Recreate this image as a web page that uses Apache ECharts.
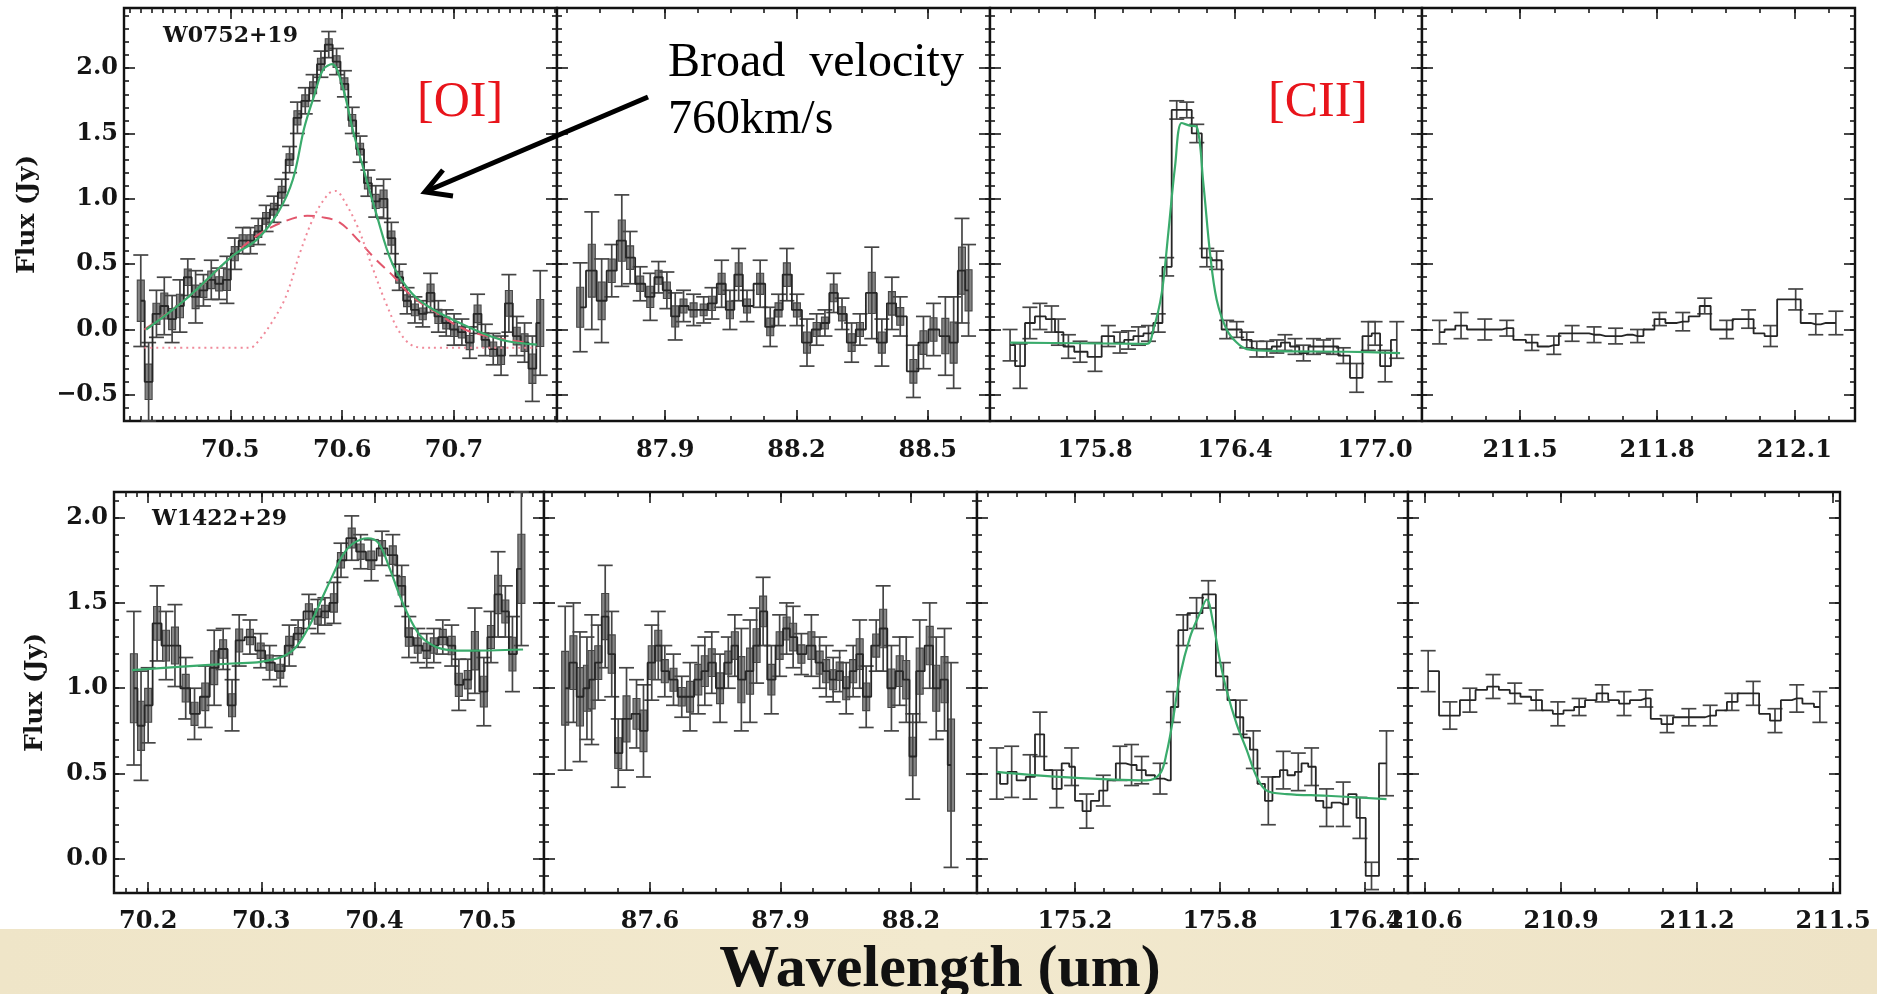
<!DOCTYPE html>
<html>
<head>
<meta charset="utf-8">
<script src="https://cdn.jsdelivr.net/npm/echarts@6/dist/echarts.min.js"></script>
<style>
  html, body { margin: 0; padding: 0; background: #ffffff; }
  #chart { width: 1877px; height: 994px; }
</style>
</head>
<body>
<div id="chart"></div>
<script>
// ---------- W0752+19 : [OI] 63um ----------
const top1Wave = [70.420,70.427,70.434,70.441,70.448,70.455,70.462,70.469,70.476,70.483,70.490,70.497,70.504,70.511,70.518,70.525,70.532,70.539,70.546,70.553,70.560,70.567,70.574,70.581,70.588,70.595,70.602,70.609,70.616,70.623,70.630,70.637,70.644,70.651,70.658,70.665,70.672,70.679,70.686,70.693,70.700,70.707,70.714,70.721,70.728,70.735,70.742,70.749,70.756,70.763,70.770,70.777];
const top1Flux = [0.22,-0.40,0.12,0.18,0.08,0.18,0.40,0.25,0.30,0.38,0.35,0.38,0.58,0.68,0.68,0.75,0.85,0.92,1.05,1.30,1.62,1.75,1.85,2.03,2.18,2.05,1.88,1.60,1.38,1.12,0.98,1.00,0.70,0.40,0.22,0.15,0.12,0.28,0.10,0.05,0.00,-0.02,-0.10,0.12,-0.08,-0.15,-0.20,0.20,-0.05,-0.10,-0.30,0.05];
const top1Err  = [0.35,0.30,0.18,0.22,0.18,0.20,0.14,0.20,0.12,0.15,0.12,0.18,0.12,0.10,0.10,0.10,0.10,0.10,0.10,0.10,0.12,0.10,0.10,0.10,0.10,0.10,0.10,0.10,0.10,0.10,0.12,0.15,0.12,0.10,0.10,0.10,0.10,0.15,0.12,0.10,0.12,0.10,0.12,0.15,0.12,0.12,0.15,0.22,0.15,0.15,0.25,0.40];
const top1FitWave = [70.4248,70.460,70.5016,70.524,70.543,70.556,70.566,70.575,70.583,70.591,70.600,70.610,70.620,70.630,70.645,70.662,70.678,70.700,70.726,70.748,70.774];
const top1Fit     = [0.00,0.23,0.56,0.69,0.90,1.15,1.54,1.79,1.99,2.03,1.87,1.51,1.20,0.90,0.50,0.28,0.17,0.07,-0.03,-0.09,-0.115];
const top1BroadWave = [70.4232,70.460,70.5016,70.524,70.5464,70.5688,70.5816,70.5976,70.6136,70.6296,70.6456,70.6616,70.684,70.7096,70.7352,70.764];
const top1Broad     = [0.00,0.23,0.56,0.72,0.82,0.87,0.86,0.82,0.69,0.54,0.41,0.26,0.13,0.00,-0.06,-0.10];
const top1NarrowWave = [70.4232,70.5176,70.524,70.5368,70.5496,70.5624,70.5752,70.588,70.5944,70.6008,70.6136,70.6264,70.6392,70.652,70.6648,70.678,70.774];
const top1Narrow     = [-0.14,-0.14,-0.10,0.05,0.25,0.59,0.87,1.04,1.06,1.00,0.79,0.49,0.20,-0.03,-0.13,-0.14,-0.14];

// ---------- W0752+19 : 88um ----------
const top2Wave = [87.706,87.7325,87.755,87.778,87.801,87.820,87.843,87.866,87.885,87.904,87.923,87.942,87.965,87.988,88.007,88.029,88.048,88.068,88.087,88.117,88.140,88.159,88.178,88.201,88.224,88.246,88.265,88.285,88.304,88.326,88.345,88.372,88.395,88.418,88.437,88.467,88.490,88.513,88.540,88.559,88.578,88.593];
const top2Flux = [0.17,0.45,0.22,0.45,0.68,0.55,0.35,0.25,0.40,0.30,0.10,0.18,0.15,0.15,0.20,0.35,0.15,0.42,0.18,0.35,0.02,0.15,0.42,0.15,-0.10,0.00,0.05,0.28,0.12,-0.10,0.00,0.28,-0.10,0.20,0.10,-0.32,-0.10,0.00,-0.05,-0.10,0.45,0.30];
const top2Err  = [0.34,0.45,0.32,0.20,0.35,0.20,0.13,0.18,0.12,0.14,0.18,0.12,0.12,0.10,0.12,0.18,0.15,0.20,0.12,0.18,0.15,0.12,0.20,0.12,0.18,0.12,0.10,0.15,0.12,0.15,0.12,0.35,0.18,0.20,0.15,0.20,0.20,0.20,0.30,0.35,0.40,0.35];

// ---------- W0752+19 : [CII] 158um ----------
const top3Wave = [175.436,175.479,175.521,175.564,175.614,175.643,175.686,175.736,175.800,175.857,175.907,175.943,175.986,176.029,176.071,176.107,176.150,176.193,176.236,176.279,176.321,176.364,176.407,176.450,176.493,176.536,176.579,176.614,176.657,176.693,176.736,176.779,176.821,176.864,176.921,176.971,177.000,177.043,177.093];
const top3Flux = [-0.12,-0.28,0.05,0.10,0.08,-0.02,-0.13,-0.17,-0.21,-0.05,-0.10,-0.08,-0.05,-0.03,0.05,0.48,1.68,1.68,1.50,0.55,0.53,0.00,0.00,-0.08,-0.15,-0.15,-0.13,-0.10,-0.13,-0.18,-0.13,-0.13,-0.13,-0.20,-0.37,-0.05,-0.03,-0.28,-0.08];
const top3Err  = [0.12,0.17,0.12,0.10,0.10,0.10,0.09,0.08,0.11,0.08,0.08,0.07,0.07,0.06,0.07,0.07,0.07,0.06,0.07,0.07,0.07,0.07,0.06,0.06,0.06,0.06,0.05,0.06,0.06,0.06,0.06,0.05,0.06,0.06,0.11,0.11,0.09,0.12,0.14];
const top3FitWave = [175.436,175.736,176.021,176.050,176.086,176.114,176.143,176.171,176.207,176.236,176.264,176.293,176.321,176.364,176.407,176.450,176.593,176.879,177.107];
const top3Fit     = [-0.10,-0.105,-0.11,0.00,0.28,0.74,1.25,1.58,1.56,1.55,1.12,0.58,0.23,0.00,-0.10,-0.15,-0.165,-0.17,-0.18];

// ---------- W0752+19 : 183um ----------
const top4Wave = [211.324,211.346,211.371,211.397,211.423,211.449,211.471,211.500,211.526,211.551,211.574,211.596,211.614,211.640,211.662,211.687,211.709,211.735,211.757,211.783,211.805,211.831,211.856,211.882,211.904,211.930,211.952,211.978,212.000,212.022,212.048,212.077,212.103,212.125,212.147,212.169,212.191];
const top4Flux = [-0.02,0.00,0.03,0.00,0.00,0.00,0.01,-0.08,-0.10,-0.13,-0.12,-0.03,-0.03,-0.03,-0.04,-0.05,-0.05,-0.04,-0.05,0.00,0.08,0.05,0.06,0.10,0.18,0.00,0.00,0.08,0.08,-0.03,-0.05,0.23,0.23,0.05,0.04,0.05,0.05];
const top4Err  = [0.09,0,0.10,0,0.08,0,0.06,0,0.06,0,0.07,0,0.06,0,0.06,0,0.06,0,0.05,0,0.05,0,0.07,0,0.06,0,0.07,0,0.07,0,0.08,0,0.08,0,0.08,0,0.09];

// ---------- W1422+29 : [OI] 63um ----------
const bot1Wave = [70.1874,70.1937,70.2000,70.2079,70.2158,70.2237,70.2332,70.2410,70.2505,70.2584,70.2663,70.2742,70.2805,70.2900,70.2995,70.3074,70.3168,70.3247,70.3326,70.3421,70.3500,70.3563,70.3642,70.3705,70.3800,70.3879,70.3973,70.4068,70.4163,70.4242,70.4305,70.4384,70.4463,70.4526,70.4605,70.4684,70.4747,70.4826,70.4889,70.4968,70.5031,70.5094,70.5158,70.5221,70.5300];
const bot1Flux = [1.00,0.78,0.90,1.38,1.25,1.25,1.00,0.85,0.95,1.12,1.23,0.90,1.28,1.30,1.22,1.15,1.10,1.25,1.32,1.45,1.42,1.45,1.50,1.75,1.88,1.80,1.75,1.82,1.78,1.60,1.30,1.25,1.22,1.25,1.30,1.25,1.02,1.05,1.22,0.98,1.30,1.55,1.45,1.20,1.70];
const bot1Err  = [0.45,0.32,0.22,0.22,0.20,0.24,0.18,0.15,0.18,0.22,0.12,0.15,0.15,0.10,0.10,0.10,0.09,0.12,0.08,0.10,0.10,0.08,0.12,0.10,0.13,0.10,0.12,0.10,0.12,0.12,0.12,0.10,0.10,0.10,0.10,0.12,0.15,0.12,0.25,0.20,0.15,0.25,0.15,0.22,0.45];
const bot1FitWave = [70.1858,70.2268,70.2742,70.2995,70.3184,70.3310,70.3437,70.3531,70.3626,70.3721,70.3816,70.3942,70.4037,70.4131,70.4226,70.4321,70.4416,70.4542,70.4668,70.4794,70.5315];
const bot1Fit     = [1.106,1.125,1.145,1.155,1.184,1.243,1.38,1.517,1.654,1.78,1.85,1.879,1.85,1.71,1.54,1.40,1.30,1.243,1.223,1.22,1.227];

// ---------- W1422+29 : 88um ----------
const bot2Wave = [87.405,87.424,87.439,87.455,87.466,87.481,87.497,87.512,87.527,87.546,87.569,87.585,87.604,87.619,87.634,87.654,87.673,87.692,87.711,87.726,87.742,87.761,87.780,87.795,87.810,87.830,87.845,87.860,87.879,87.898,87.914,87.929,87.948,87.971,87.990,88.005,88.021,88.036,88.051,88.067,88.082,88.097,88.120,88.136,88.155,88.174,88.189,88.204,88.220,88.243,88.258,88.277,88.292];
const bot2Flux = [1.00,1.15,0.95,1.00,1.05,1.15,1.42,1.20,0.62,0.82,0.85,0.75,1.15,1.25,1.10,1.05,0.95,0.95,1.05,1.10,1.15,1.00,1.15,1.25,1.05,1.10,1.25,1.45,1.05,1.25,1.35,1.30,1.20,1.25,1.15,1.10,1.05,1.10,1.00,1.10,1.20,0.95,1.25,1.35,1.00,1.10,1.05,0.60,1.10,1.25,1.00,1.05,0.55];
const bot2Err  = [0.48,0.35,0.38,0.30,0.38,0.22,0.30,0.25,0.20,0.30,0.20,0.27,0.22,0.20,0.15,0.15,0.12,0.20,0.20,0.20,0.18,0.20,0.15,0.18,0.30,0.30,0.22,0.20,0.20,0.18,0.15,0.18,0.12,0.18,0.15,0.15,0.13,0.12,0.15,0.15,0.20,0.18,0.15,0.25,0.25,0.20,0.25,0.25,0.30,0.25,0.30,0.30,0.60];

// ---------- W1422+29 : [CII] 158um ----------
const bot3Wave = [174.876,174.904,174.938,174.979,175.014,175.055,175.090,175.124,175.166,175.186,175.214,175.248,175.283,175.317,175.352,175.386,175.434,175.476,175.510,175.552,175.586,175.607,175.648,175.683,175.703,175.752,175.814,175.848,175.883,175.910,175.938,175.972,176.000,176.034,176.062,176.096,176.124,176.151,176.179,176.214,176.241,176.283,176.310,176.351,176.379,176.427,176.489];
const bot3Flux = [0.50,0.44,0.51,0.46,0.48,0.73,0.52,0.41,0.56,0.54,0.34,0.28,0.34,0.40,0.46,0.56,0.55,0.52,0.49,0.47,0.46,0.89,1.34,1.44,1.44,1.55,1.07,0.93,0.83,0.71,0.64,0.44,0.34,0.48,0.52,0.49,0.51,0.56,0.54,0.34,0.30,0.33,0.32,0.38,0.24,-0.10,0.56];
const bot3Err  = [0.15,0,0.15,0,0.13,0.13,0,0.11,0,0.11,0,0.10,0,0.09,0,0.10,0.12,0.08,0,0.09,0,0.09,0.09,0,0.09,0.08,0.08,0,0.10,0,0.11,0,0.14,0,0.11,0,0.11,0,0.11,0,0.11,0,0.13,0,0.12,0.08,0.19];
const bot3FitWave = [174.876,175.138,175.496,175.552,175.579,175.607,175.634,175.676,175.717,175.745,175.772,175.800,175.827,175.869,175.910,175.952,175.993,176.076,176.241,176.489];
const bot3Fit     = [0.51,0.48,0.46,0.50,0.62,0.83,1.07,1.30,1.44,1.52,1.38,1.16,0.99,0.79,0.64,0.48,0.40,0.38,0.37,0.35];

// ---------- W1422+29 : 183um ----------
const bot4Wave = [210.607,210.655,210.699,210.724,210.750,210.776,210.798,210.823,210.845,210.871,210.893,210.918,210.940,210.966,210.991,211.017,211.039,211.065,211.087,211.109,211.134,211.160,211.182,211.207,211.229,211.255,211.277,211.302,211.324,211.350,211.372,211.398,211.420,211.445,211.471];
const bot4Flux = [1.10,0.84,0.93,0.99,1.01,0.99,0.97,0.95,0.93,0.87,0.85,0.87,0.89,0.93,0.97,0.93,0.91,0.93,0.94,0.82,0.79,0.83,0.83,0.83,0.84,0.87,0.92,0.97,0.97,0.85,0.81,0.93,0.94,0.91,0.89];
const bot4Err  = [0.12,0.08,0.07,0,0.07,0,0.06,0,0.06,0,0.07,0,0.05,0,0.05,0,0.07,0,0.05,0,0.05,0,0.05,0,0.06,0,0.05,0,0.07,0,0.07,0,0.08,0,0.09];

// ---------- tick labels ----------
const topFluxTicks = [-0.5, 0.0, 0.5, 1.0, 1.5, 2.0];
const botFluxTicks = [0.0, 0.5, 1.0, 1.5, 2.0];
const top1Ticks = [70.5, 70.6, 70.7];
const top2Ticks = [87.9, 88.2, 88.5];
const top3Ticks = [175.8, 176.4, 177.0];
const top4Ticks = [211.5, 211.8, 212.1];
const bot1Ticks = [70.2, 70.3, 70.4, 70.5];
const bot2Ticks = [87.6, 87.9, 88.2];
const bot3Ticks = [175.2, 175.8, 176.4];
const bot4Ticks = [210.6, 210.9, 211.2, 211.5];

// ---------- panel layout ----------
const panels = [
  { grid: { left: 124, top: 8, width: 433, height: 413 }, x: [70.405, 70.792], y: [-0.70, 2.46], xTicks: top1Ticks, xMinor: 0.01, yTicks: topFluxTicks, yLabels: true, name: 'Flux (Jy)', nameGap: 84,
    wave: top1Wave, flux: top1Flux, err: top1Err, boxed: true,
    curves: [
      { wave: top1BroadWave, val: top1Broad, color: '#e2566c', type: [11, 7], width: 2 },
      { wave: top1NarrowWave, val: top1Narrow, color: '#f08a9a', type: [2, 4], width: 2 },
      { wave: top1FitWave, val: top1Fit, color: '#3aab6c', type: 'solid', width: 2.2 }
    ] },
  { grid: { left: 557, top: 8, width: 433, height: 413 }, x: [87.653, 88.642], y: [-0.70, 2.46], xTicks: top2Ticks, xMinor: 0.075, yTicks: topFluxTicks,
    wave: top2Wave, flux: top2Flux, err: top2Err, boxed: true, curves: [] },
  { grid: { left: 990, top: 8, width: 432, height: 413 }, x: [175.35, 177.201], y: [-0.70, 2.46], xTicks: top3Ticks, xMinor: 0.12, yTicks: topFluxTicks,
    wave: top3Wave, flux: top3Flux, err: top3Err, boxed: false,
    curves: [ { wave: top3FitWave, val: top3Fit, color: '#3aab6c', type: 'solid', width: 2.2 } ] },
  { grid: { left: 1422, top: 8, width: 433, height: 413 }, x: [211.2856, 212.2328], y: [-0.70, 2.46], xTicks: top4Ticks, xMinor: 0.075, yTicks: topFluxTicks,
    wave: top4Wave, flux: top4Flux, err: top4Err, boxed: false, curves: [] },
  { grid: { left: 114, top: 492, width: 430, height: 401 }, x: [70.1698, 70.5500], y: [-0.20, 2.15], xTicks: bot1Ticks, xMinor: 0.01, yTicks: botFluxTicks, yLabels: true, name: 'Flux (Jy)', nameGap: 66,
    wave: bot1Wave, flux: bot1Flux, err: bot1Err, boxed: true,
    curves: [ { wave: bot1FitWave, val: bot1Fit, color: '#3aab6c', type: 'solid', width: 2.2 } ] },
  { grid: { left: 544, top: 492, width: 433, height: 401 }, x: [87.3563, 88.3517], y: [-0.20, 2.15], xTicks: bot2Ticks, xMinor: 0.075, yTicks: botFluxTicks,
    wave: bot2Wave, flux: bot2Flux, err: bot2Err, boxed: true, curves: [] },
  { grid: { left: 977, top: 492, width: 431, height: 401 }, x: [174.7945, 176.578], y: [-0.20, 2.15], xTicks: bot3Ticks, xMinor: 0.12, yTicks: botFluxTicks,
    wave: bot3Wave, flux: bot3Flux, err: bot3Err, boxed: false,
    curves: [ { wave: bot3FitWave, val: bot3Fit, color: '#3aab6c', type: 'solid', width: 2.2 } ] },
  { grid: { left: 1408, top: 492, width: 432, height: 401 }, x: [210.5625, 211.5154], y: [-0.20, 2.15], xTicks: bot4Ticks, xMinor: 0.075, yTicks: botFluxTicks,
    wave: bot4Wave, flux: bot4Flux, err: bot4Err, boxed: false, curves: [] }
];

const TICK = { color: '#1a1a1a', width: 1.6 };
const LABEL = { fontFamily: 'DejaVu Serif', fontWeight: 'bold', fontSize: 24, color: '#151515' };

function ticksBetween(min, max, step) {
  const out = [];
  for (let k = Math.ceil(min / step - 1e-9); k * step <= max + 1e-9; k++) out.push(+(k * step).toFixed(4));
  return out;
}
function fmt(v) { return (v < 0 ? '\u2212' : '') + Math.abs(v).toFixed(1); }

function errorRenderer(boxed) {
  return function (params, api) {
    const x = api.value(0), y = api.value(1), e = api.value(2);
    if (!e) return null;
    const lo = api.coord([x, y - e]);
    const hi = api.coord([x, y + e]);
    const cap = 7.5;
    const ink = '#454545';
    const children = [];
    if (boxed) {
      const b1 = api.coord([x, y - e * 0.45]);
      const b2 = api.coord([x, y + e * 0.45]);
      children.push({ type: 'rect', shape: { x: lo[0] - 3.5, y: b2[1], width: 7, height: b1[1] - b2[1] },
        style: { fill: '#858585', stroke: '#474747', lineWidth: 1.1 } });
    }
    children.push({ type: 'line', shape: { x1: lo[0], y1: lo[1], x2: hi[0], y2: hi[1] }, style: { stroke: ink, lineWidth: 1.7 } });
    children.push({ type: 'line', shape: { x1: lo[0] - cap, y1: lo[1], x2: lo[0] + cap, y2: lo[1] }, style: { stroke: ink, lineWidth: 1.7 } });
    children.push({ type: 'line', shape: { x1: hi[0] - cap, y1: hi[1], x2: hi[0] + cap, y2: hi[1] }, style: { stroke: ink, lineWidth: 1.7 } });
    return { type: 'group', children: children };
  };
}

const grids = [], xAxes = [], yAxes = [], series = [];
panels.forEach(function (p, gi) {
  grids.push(Object.assign({ show: true, borderColor: '#111', borderWidth: 2.4, backgroundColor: '#fff' }, p.grid));

  const xBase = { gridIndex: gi, type: 'value', min: p.x[0], max: p.x[1], splitLine: { show: false }, axisLine: { show: false, onZero: false } };
  const xMinor = ticksBetween(p.x[0], p.x[1], p.xMinor);
  xAxes.push(Object.assign({}, xBase, { position: 'bottom',
    axisTick: { show: true, inside: true, length: 11, customValues: p.xTicks, lineStyle: TICK },
    axisLabel: Object.assign({ show: true, customValues: p.xTicks, formatter: fmt, margin: gi < 4 ? 18 : 17 }, LABEL) }));
  xAxes.push(Object.assign({}, xBase, { position: 'bottom',
    axisTick: { show: true, inside: true, length: 5, customValues: xMinor, lineStyle: TICK }, axisLabel: { show: false } }));
  xAxes.push(Object.assign({}, xBase, { position: 'top',
    axisTick: { show: true, inside: true, length: 11, customValues: p.xTicks, lineStyle: TICK }, axisLabel: { show: false } }));
  xAxes.push(Object.assign({}, xBase, { position: 'top',
    axisTick: { show: true, inside: true, length: 5, customValues: xMinor, lineStyle: TICK }, axisLabel: { show: false } }));

  const yBase = { gridIndex: gi, type: 'value', min: p.y[0], max: p.y[1], splitLine: { show: false }, axisLine: { show: false, onZero: false } };
  const yMinor = ticksBetween(p.y[0], p.y[1], 0.1);
  const yMain = Object.assign({}, yBase, { position: 'left',
    axisTick: { show: true, inside: true, length: 11, customValues: p.yTicks, lineStyle: TICK },
    axisLabel: Object.assign({ show: !!p.yLabels, customValues: p.yTicks, formatter: fmt, margin: 6 }, LABEL) });
  if (p.name) {
    yMain.name = p.name;
    yMain.nameLocation = 'middle';
    yMain.nameRotate = 90;
    yMain.nameGap = p.nameGap;
    yMain.nameTextStyle = { fontFamily: 'DejaVu Serif', fontWeight: 'bold', fontSize: 25, color: '#151515' };
  }
  yAxes.push(yMain);
  yAxes.push(Object.assign({}, yBase, { position: 'left',
    axisTick: { show: true, inside: true, length: 5, customValues: yMinor, lineStyle: TICK }, axisLabel: { show: false } }));
  yAxes.push(Object.assign({}, yBase, { position: 'right',
    axisTick: { show: true, inside: true, length: 11, customValues: p.yTicks, lineStyle: TICK }, axisLabel: { show: false } }));
  yAxes.push(Object.assign({}, yBase, { position: 'right',
    axisTick: { show: true, inside: true, length: 5, customValues: yMinor, lineStyle: TICK }, axisLabel: { show: false } }));

  const ax = { xAxisIndex: gi * 4, yAxisIndex: gi * 4 };
  series.push(Object.assign({ type: 'custom', z: 2, silent: true, clip: false,
    renderItem: errorRenderer(p.boxed), encode: { x: 0, y: 1 },
    data: p.wave.map(function (w, i) { return [w, p.flux[i], p.err[i]]; }) }, ax));
  series.push(Object.assign({ type: 'line', step: 'middle', z: 3, silent: true, symbol: 'none',
    lineStyle: { color: '#262626', width: 1.8 },
    data: p.wave.map(function (w, i) { return [w, p.flux[i]]; }) }, ax));
  p.curves.forEach(function (c) {
    series.push(Object.assign({ type: 'line', smooth: 0.35, z: 4, silent: true, symbol: 'none',
      lineStyle: { color: c.color, width: c.width, type: c.type },
      data: c.wave.map(function (w, i) { return [w, c.val[i]]; }) }, ax));
  });
});

const graphics = [
  { type: 'rect', z: 0, shape: { x: 0, y: 929, width: 1877, height: 65 },
    style: { fill: { type: 'linear', x: 0, y: 0, x2: 1, y2: 0,
      colorStops: [{ offset: 0, color: '#efe5c8' }, { offset: 0.5, color: '#f2e9ce' }, { offset: 1, color: '#eee3c6' }] } } },
  { type: 'text', z: 10, style: { text: 'Wavelength (um)', x: 940, y: 970, align: 'center', verticalAlign: 'middle',
    font: 'bold 60px "Liberation Serif"', fill: '#111' } },
  { type: 'text', z: 10, style: { text: 'W0752+19', x: 163, y: 36, align: 'left', verticalAlign: 'middle',
    font: 'bold 22px "DejaVu Serif"', fill: '#151515' } },
  { type: 'text', z: 10, style: { text: 'W1422+29', x: 152, y: 519, align: 'left', verticalAlign: 'middle',
    font: 'bold 22px "DejaVu Serif"', fill: '#151515' } },
  { type: 'text', z: 10, style: { text: '[OI]', x: 417, y: 103, align: 'left', verticalAlign: 'middle',
    font: '50px "Liberation Serif"', fill: '#e8141b' } },
  { type: 'text', z: 10, style: { text: '[CII]', x: 1268, y: 103, align: 'left', verticalAlign: 'middle',
    font: '50px "Liberation Serif"', fill: '#e8141b' } },
  { type: 'text', z: 10, style: { text: 'Broad  velocity', x: 668, y: 63, align: 'left', verticalAlign: 'middle',
    font: '48px "Liberation Serif"', fill: '#000' } },
  { type: 'text', z: 10, style: { text: '760km/s', x: 668, y: 120, align: 'left', verticalAlign: 'middle',
    font: '48px "Liberation Serif"', fill: '#000' } },
  { type: 'line', z: 10, shape: { x1: 648, y1: 97, x2: 427, y2: 191 }, style: { stroke: '#000', lineWidth: 5 } },
  { type: 'polyline', z: 10, shape: { points: [[453, 196], [425, 192], [443, 170]] },
    style: { stroke: '#000', lineWidth: 5, fill: null, lineJoin: 'miter' } }
];

const chart = echarts.init(document.getElementById('chart'), null, { renderer: 'canvas' });
chart.setOption({
  animation: false,
  backgroundColor: '#ffffff',
  grid: grids,
  xAxis: xAxes,
  yAxis: yAxes,
  series: series,
  graphic: graphics
});
</script>
</body>
</html>
